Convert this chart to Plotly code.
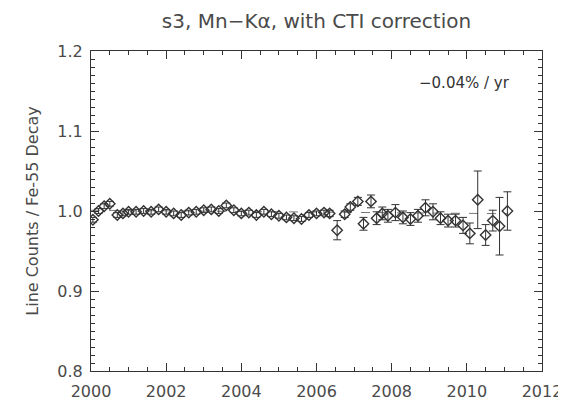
import plotly.graph_objects as go

years = [2000.05, 2000.2, 2000.35, 2000.5, 2000.7, 2000.85, 2001.0, 2001.2, 2001.4, 2001.6,
         2001.8, 2002.0, 2002.2, 2002.4, 2002.6, 2002.8, 2003.0, 2003.2, 2003.4, 2003.6,
         2003.8, 2004.0, 2004.2, 2004.4, 2004.6, 2004.8, 2005.0, 2005.2, 2005.4, 2005.6,
         2005.8, 2006.0, 2006.2, 2006.35, 2006.55, 2006.75, 2006.9, 2007.1, 2007.25, 2007.45,
         2007.6, 2007.75, 2007.9, 2008.1, 2008.3, 2008.5, 2008.7, 2008.9, 2009.1, 2009.3,
         2009.5, 2009.7, 2009.9, 2010.08, 2010.29, 2010.5, 2010.69, 2010.87, 2011.08]
values = [0.989, 1.000, 1.006, 1.009, 0.995, 0.997, 0.999, 0.999, 1.000, 0.999,
          1.002, 0.999, 0.997, 0.995, 0.998, 0.999, 1.001, 1.002, 1.000, 1.007,
          1.001, 0.997, 0.998, 0.995, 0.999, 0.996, 0.994, 0.992, 0.991, 0.990,
          0.995, 0.997, 0.998, 0.997, 0.976, 0.996, 1.005, 1.012, 0.984, 1.012,
          0.991, 0.997, 0.994, 0.998, 0.992, 0.990, 0.994, 1.004, 0.999, 0.991,
          0.988, 0.988, 0.982, 0.972, 1.014, 0.970, 0.988, 0.981, 1.000]
errors = [0.003, 0.003, 0.003, 0.003, 0.003, 0.003, 0.003, 0.003, 0.003, 0.003,
          0.003, 0.003, 0.003, 0.003, 0.003, 0.003, 0.003, 0.003, 0.003, 0.003,
          0.003, 0.003, 0.003, 0.003, 0.003, 0.003, 0.003, 0.003, 0.003, 0.003,
          0.003, 0.003, 0.003, 0.004, 0.012, 0.004, 0.004, 0.005, 0.008, 0.008,
          0.008, 0.008, 0.008, 0.010, 0.008, 0.008, 0.008, 0.010, 0.010, 0.008,
          0.008, 0.008, 0.010, 0.013, 0.036, 0.013, 0.013, 0.036, 0.024]

fit_years = [2000.0, 2011.1]
fit_values = [1.001, 0.9966]

x_ticks = [2000, 2002, 2004, 2006, 2008, 2010, 2012]
y_ticks = [0.8, 0.9, 1.0, 1.1, 1.2]
y_ticklabels = ["0.8", "0.9", "1.0", "1.1", "1.2"]

ink = "#333333"
txt = "#4a4a4a"
font = "DejaVu Sans, Verdana, sans-serif"

fig = go.Figure()
fig.add_trace(go.Scatter(
    x=fit_years, y=fit_values, mode="lines",
    line=dict(color="#777777", width=1, dash="dash"), showlegend=False, hoverinfo="skip"))
fig.add_trace(go.Scatter(
    x=years, y=values, mode="markers",
    marker=dict(symbol="diamond-open", size=8, color=ink, line=dict(width=1.4, color=ink)),
    error_y=dict(type="data", array=errors, visible=True, color=ink, thickness=1, width=4),
    showlegend=False))

axis_common = dict(
    showgrid=False, zeroline=False, showline=True, linecolor=ink, linewidth=1,
    mirror="allticks", ticks="inside", tickcolor=ink, ticklen=8, tickwidth=1,
    tickfont=dict(family=font, size=16, color=txt),
)
fig.update_xaxes(range=[2000, 2012], tickvals=x_ticks, ticklabelstandoff=6, **axis_common,
                 minor=dict(dtick=0.5, ticks="inside", ticklen=4, tickcolor=ink))
fig.update_yaxes(range=[0.8, 1.2], tickvals=y_ticks, ticktext=y_ticklabels, ticklabelstandoff=4, **axis_common,
                 minor=dict(dtick=0.01, ticks="inside", ticklen=4, tickcolor=ink),
                 title=dict(text="Line Counts / Fe-55 Decay", font=dict(family=font, size=16, color=txt), standoff=14))

fig.add_annotation(x=0.934, y=0.90, xref="paper", yref="paper", xanchor="right", yanchor="middle",
                   text="\u22120.04% / yr", showarrow=False,
                   font=dict(family=font, size=15, color="#333333"))

fig.update_layout(
    width=566, height=405,
    margin=dict(l=83, r=26, t=43, b=41),
    paper_bgcolor="white", plot_bgcolor="white",
    title=dict(text="s3, Mn\u2212K\u03b1, with CTI correction", xref="paper", x=0.5, xanchor="center",
               y=0.985, yanchor="top",
               font=dict(family=font, size=20, color=txt)),
)

fig.write_html("out.html")
